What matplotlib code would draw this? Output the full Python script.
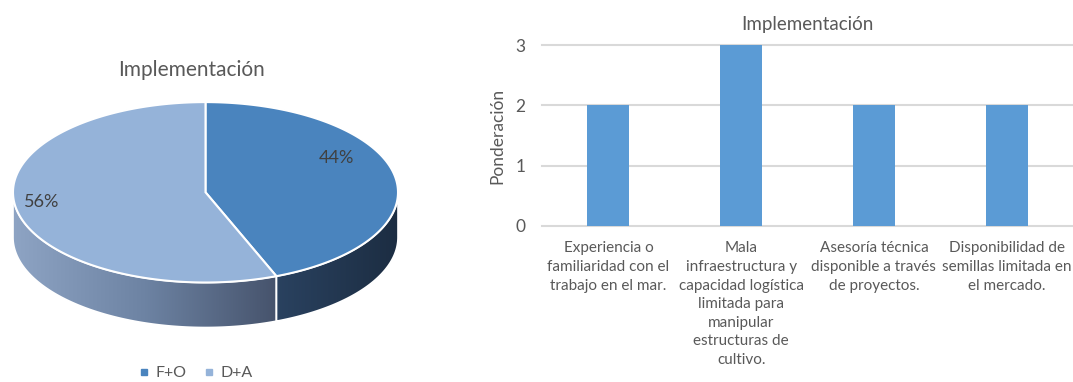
import numpy as np
import matplotlib
matplotlib.use("Agg")
import matplotlib.pyplot as plt
from matplotlib.patches import Polygon
from matplotlib.lines import Line2D
from matplotlib.colors import LinearSegmentedColormap

plt.rcParams['font.family'] = ['Lato', 'DejaVu Sans']

# ---- data ----
title = "Implementación"
pie_labels = ["F+O", "D+A"]
pie_values = [44, 56]
pie_colors = ["#4a84be", "#95b3d9"]

bar_categories = [
    "Experiencia o\nfamiliaridad con el\ntrabajo en el mar.",
    "Mala\ninfraestructura y\ncapacidad logística\nlimitada para\nmanipular\nestructuras de\ncultivo.",
    "Asesoría técnica\ndisponible a través\nde proyectos.",
    "Disponibilidad de\nsemillas limitada en\nel mercado.",
]
bar_values = [2, 3, 2, 2]
y_ticks = [0, 1, 2, 3]
y_label = "Ponderación"

TEXT = "#595959"

W, H = 1073, 382
fig = plt.figure(figsize=(W / 100, H / 100), dpi=100)

# ---- 3D-style pie (pixel coordinates) ----
axp = fig.add_axes([0, 0, 450 / W, 1])
axp.set_xlim(0, 450)
axp.set_ylim(H, 0)
axp.axis("off")

cx, cy, rx, ry, depth = 205.5, 192.3, 192.5, 90.2, 45


def ell(t, r=1.0):
    return cx + r * rx * np.cos(t), cy - r * ry * np.sin(t)


total = float(sum(pie_values))
# clockwise from 12 o'clock
bounds = [np.pi / 2]
for v in pie_values:
    bounds.append(bounds[-1] - 2 * np.pi * v / total)

# side walls (only the front half is visible)
side_cmaps = [
    LinearSegmentedColormap.from_list("s0", ["#2a4260", "#1c2d42"]),
    LinearSegmentedColormap.from_list("s1", ["#8ea4c4", "#6d83a3", "#46536c"]),
]
for i in range(len(pie_values)):
    lo, hi = sorted([bounds[i], bounds[i + 1]])
    ts = np.linspace(lo, hi, 400)
    ts_n = np.mod(ts + np.pi, 2 * np.pi) - np.pi
    vis = np.sort(ts_n[(ts_n <= 0) & (ts_n >= -np.pi)])
    if vis.size < 2:
        continue
    xs, ys = ell(vis)
    px = np.concatenate([xs, xs[::-1]])
    py = np.concatenate([ys, ys[::-1] + depth])
    poly = Polygon(np.column_stack([px, py]), closed=True, facecolor="none",
                   edgecolor="white", lw=1.2, zorder=3)
    axp.add_patch(poly)
    grad = np.linspace(0, 1, 256).reshape(1, -1)
    im = axp.imshow(grad, cmap=side_cmaps[i], aspect="auto",
                    extent=(xs.min(), xs.max(), ys.max() + depth, ys.min()),
                    zorder=2, interpolation="bilinear")
    im.set_clip_path(poly)

# top faces
for i in range(len(pie_values)):
    ts = np.linspace(bounds[i], bounds[i + 1], 300)
    xs, ys = ell(ts)
    pts = np.column_stack([np.r_[cx, xs], np.r_[cy, ys]])
    axp.add_patch(Polygon(pts, closed=True, facecolor=pie_colors[i],
                          edgecolor="white", lw=1.5, zorder=4))

# percentage labels
label_shift = [np.radians(18.4), np.radians(-3.4)]
label_r = [0.78, 0.86]
for i, v in enumerate(pie_values):
    mid = (bounds[i] + bounds[i + 1]) / 2 + label_shift[i]
    lx, ly = ell(mid, label_r[i])
    axp.text(lx, ly, f"{v}%", ha="center", va="center", fontsize=13,
             color="#404040", zorder=5)

axp.text(191, 70, title, ha="center", va="center", fontsize=15, color=TEXT)

handles = [Line2D([], [], marker="s", ls="", markersize=5, color=c)
           for c in pie_colors]
axp.legend(handles, pie_labels, loc="center", bbox_to_anchor=(196 / 450, 1 - 373 / H),
           ncol=2, frameon=False, fontsize=11.5, labelcolor=TEXT,
           handlelength=0.6, handletextpad=0.4, columnspacing=1.1)

# ---- bar chart ----
axb = fig.add_axes([542 / W, (H - 226) / H, (W - 542) / W, 181 / H])
x = np.arange(len(bar_values))
axb.bar(x, bar_values, width=0.315, color="#5b9bd5", zorder=3)
axb.set_xlim(-0.5, len(bar_values) - 0.5)
axb.set_ylim(0, 3)
for t in y_ticks:
    axb.axhline(t, color="#d9d9d9", lw=1.5, zorder=1, clip_on=False)
for s in axb.spines.values():
    s.set_visible(False)
axb.set_yticks(y_ticks)
axb.set_yticklabels([str(t) for t in y_ticks], fontsize=12.5, color=TEXT)
axb.set_xticks(x)
axb.set_xticklabels(bar_categories, fontsize=11, color=TEXT, linespacing=1.42)
axb.tick_params(axis="both", length=0)
axb.tick_params(axis="y", pad=12)
axb.tick_params(axis="x", pad=11)
axb.set_ylabel(y_label, fontsize=12.5, color=TEXT, labelpad=7)
axb.set_title(title, fontsize=13.5, color=TEXT, pad=11)

fig.savefig("out.png", dpi=100)
